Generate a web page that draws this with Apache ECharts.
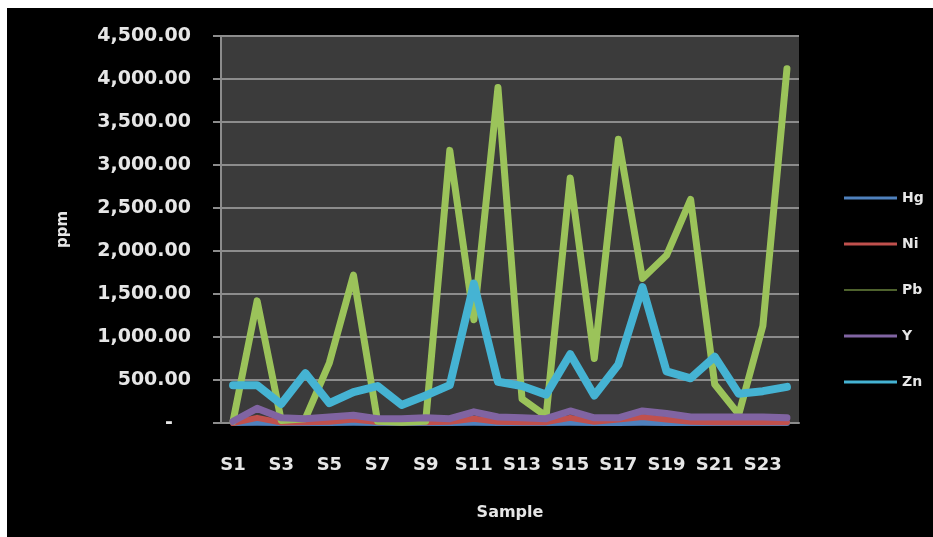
<!DOCTYPE html>
<html>
<head>
<meta charset="utf-8">
<script src="https://cdn.jsdelivr.net/npm/echarts@6/dist/echarts.min.js"></script>
<style>
  html, body { margin: 0; padding: 0; background: #ffffff; }
  #chart { position: absolute; left: 7px; top: 8px; width: 926px; height: 529px; background: #000000; }
</style>
</head>
<body>
<div id="chart"></div>
<script>
// Element concentrations (ppm) for samples S1–S24
const samples = ['S1','S2','S3','S4','S5','S6','S7','S8','S9','S10','S11','S12',
                 'S13','S14','S15','S16','S17','S18','S19','S20','S21','S22','S23','S24'];
const hg = [1, 2, 1, 1, 1, 2, 1, 1, 1, 1, 2, 1, 1, 1, 2, 1, 1, 2, 1, 1, 1, 1, 1, 1];
const ni = [0, 60, 5, 10, 15, 40, 10, 10, 10, 15, 50, 15, 10, 10, 60, 15, 40, 70, 40, 15, 10, 10, 10, 10];
const pb = [20, 1420, 30, 50, 700, 1720, 20, 10, 20, 3170, 1200, 3900,
            280, 80, 2850, 750, 3300, 1680, 1950, 2600, 450, 100, 1130, 4120];
const yv = [20, 170, 60, 50, 70, 90, 50, 50, 60, 50, 130, 70,
            60, 50, 140, 60, 60, 140, 110, 70, 70, 70, 70, 60];
const zn = [440, 440, 220, 580, 230, 360, 430, 210, 320, 440, 1620, 480,
            430, 330, 800, 320, 680, 1580, 600, 520, 770, 340, 370, 420];

const seriesNames = ['Hg', 'Ni', 'Pb', 'Y', 'Zn'];
const seriesData = [hg, ni, pb, yv, zn];
const colors = ['#4f81bd', '#c0504d', '#9bc35a', '#8064a2', '#45b3d3'];
const lineWidths = [6, 6, 7, 7, 8];
// legend swatches: thin horizontal bars, Pb drawn hairline
const legendIcons = [
  'path://M0,0 L53,0 L53,3 L0,3 Z',
  'path://M0,0 L53,0 L53,3 L0,3 Z',
  'path://M0,0 L53,0 L53,1 L0,1 Z',
  'path://M0,0 L53,0 L53,3 L0,3 Z',
  'path://M0,0 L53,0 L53,3 L0,3 Z'
];

const textColor = '#e6e6e6';
const font = 'DejaVu Sans';

const chart = echarts.init(document.getElementById('chart'), null, { renderer: 'canvas' });

chart.setOption({
  backgroundColor: '#000000',
  animation: false,
  grid: { left: 214, top: 28, width: 578, height: 387, backgroundColor: '#3b3b3b', show: true, borderWidth: 0 },
  legend: {
    orient: 'vertical',
    left: 832,
    top: 178,
    itemWidth: 53,
    itemHeight: 14,
    itemGap: 32,
    textStyle: { color: textColor, fontFamily: font, fontWeight: 'bold', fontSize: 14 },
    data: seriesNames.map((n, i) => ({
      name: n,
      icon: legendIcons[i],
      itemStyle: { color: colors[i], borderWidth: 0 },
      lineStyle: { width: 0, opacity: 0 }
    }))
  },
  xAxis: {
    type: 'category',
    data: samples,
    boundaryGap: true,
    name: 'Sample',
    nameLocation: 'middle',
    nameGap: 82,
    nameTextStyle: { color: textColor, fontFamily: font, fontWeight: 'bold', fontSize: 16 },
    axisLine: { show: true, lineStyle: { color: '#8c8c8c', width: 2 } },
    axisTick: { show: false },
    axisLabel: { interval: 1, color: textColor, fontFamily: font, fontWeight: 'bold', fontSize: 18, margin: 33 },
    splitLine: { show: false }
  },
  yAxis: {
    type: 'value',
    min: 0,
    max: 4500,
    interval: 500,
    name: 'ppm',
    nameLocation: 'middle',
    nameGap: 150,
    nameTextStyle: { color: textColor, fontFamily: font, fontWeight: 'bold', fontSize: 15 },
    axisLine: { show: true, lineStyle: { color: '#8c8c8c', width: 2 } },
    axisTick: { show: true, length: 8, lineStyle: { color: '#8c8c8c', width: 2 } },
    axisLabel: {
      color: textColor, fontFamily: font, fontWeight: 'bold', fontSize: 19, margin: 30,
      formatter: v => v === 0 ? '{dash|-}' : v.toLocaleString('en-US', { minimumFractionDigits: 2, maximumFractionDigits: 2 }),
      rich: { dash: { color: textColor, fontFamily: font, fontWeight: 'bold', fontSize: 19, padding: [0, 18, 0, 0] } }
    },
    splitLine: { show: true, lineStyle: { color: '#8c8c8c', width: 2 } }
  },
  series: seriesNames.map((n, i) => ({
    name: n,
    type: 'line',
    data: seriesData[i],
    showSymbol: false,
    symbol: 'none',
    itemStyle: { color: colors[i] },
    lineStyle: { color: colors[i], width: lineWidths[i], cap: 'round', join: 'round' },
    z: 2 + i
  }))
});
</script>
</body>
</html>
